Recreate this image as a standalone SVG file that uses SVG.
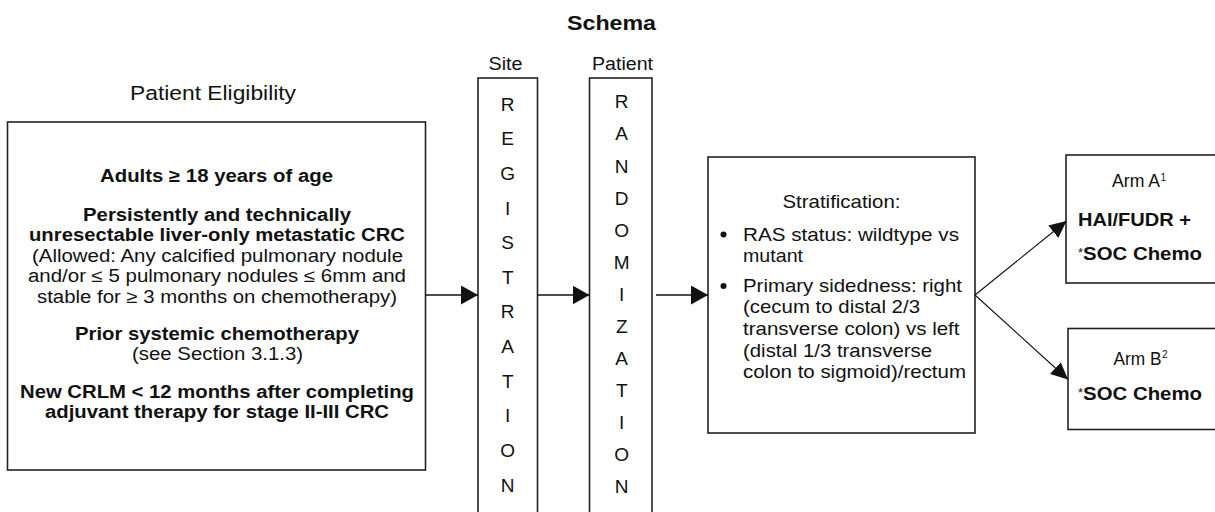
<svg xmlns="http://www.w3.org/2000/svg" width="1215" height="512" viewBox="0 0 1215 512">
<style>
.t{font-family:"Liberation Sans",Arial,sans-serif;fill:#111;}
.b{font-weight:bold;}
.m{text-anchor:middle;}
.box{fill:#fff;stroke:#222;stroke-width:1.6;}
.ln{fill:none;stroke:#111;stroke-width:1.6;}
.dg{fill:none;stroke:#111;stroke-width:1.1;}
.f18{font-size:18px;}
.f185{font-size:18.5px;}
.f19{font-size:19px;}
.f20{font-size:20px;}
</style>
<defs>
<marker id="ah" markerUnits="userSpaceOnUse" markerWidth="17" markerHeight="19" refX="17" refY="9.5" orient="auto">
<path d="M0,0 L17,9.5 L0,19 z" fill="#111"/>
</marker>
<marker id="ahd" markerUnits="userSpaceOnUse" markerWidth="17" markerHeight="16" refX="17" refY="8" orient="auto">
<path d="M0,0 L17,8 L0,16 z" fill="#111"/>
</marker>
</defs>
<rect width="1215" height="512" fill="#fff"/>

<g id="titles">
<text class="t b m f20" x="611.5" y="30" textLength="89" lengthAdjust="spacingAndGlyphs">Schema</text>
<text class="t m f20" x="213" y="100" textLength="166" lengthAdjust="spacingAndGlyphs">Patient Eligibility</text>
<text class="t m f18" x="505.5" y="70" textLength="34" lengthAdjust="spacingAndGlyphs">Site</text>
<text class="t m f18" x="622.5" y="70" textLength="61" lengthAdjust="spacingAndGlyphs">Patient</text>
</g>

<g id="eligibility">
<rect class="box" x="7.5" y="122" width="418" height="348"/>
<text class="t b m f18" x="216.5" y="182" textLength="233" lengthAdjust="spacingAndGlyphs">Adults ≥ 18 years of age</text>
<text class="t b m f18" x="217" y="221" textLength="268" lengthAdjust="spacingAndGlyphs">Persistently and technically</text>
<text class="t b m f18" x="217" y="241" textLength="376" lengthAdjust="spacingAndGlyphs">unresectable liver-only metastatic CRC</text>
<text class="t m f18" x="217.5" y="261.5" textLength="371" lengthAdjust="spacingAndGlyphs">(Allowed: Any calcified pulmonary nodule</text>
<text class="t m f18" x="217" y="282" textLength="378" lengthAdjust="spacingAndGlyphs">and/or ≤ 5 pulmonary nodules ≤ 6mm and</text>
<text class="t m f18" x="217" y="302.5" textLength="360" lengthAdjust="spacingAndGlyphs">stable for ≥ 3 months on chemotherapy)</text>
<text class="t b m f18" x="217" y="340" textLength="284" lengthAdjust="spacingAndGlyphs">Prior systemic chemotherapy</text>
<text class="t m f18" x="217.5" y="360" textLength="171" lengthAdjust="spacingAndGlyphs">(see Section 3.1.3)</text>
<text class="t b m f18" x="217" y="398" textLength="394" lengthAdjust="spacingAndGlyphs">New CRLM &lt; 12 months after completing</text>
<text class="t b m f18" x="217" y="418" textLength="344" lengthAdjust="spacingAndGlyphs">adjuvant therapy for stage II-III CRC</text>
</g>

<g id="registration">
<rect class="box" x="478" y="78" width="59.5" height="460"/>
<g class="t m f19">
<text x="507.7" y="110.5">R</text>
<text x="507.7" y="145.2">E</text>
<text x="507.7" y="179.8">G</text>
<text x="507.7" y="214.5">I</text>
<text x="507.7" y="249.1">S</text>
<text x="507.7" y="283.8">T</text>
<text x="507.7" y="318.4">R</text>
<text x="507.7" y="353.1">A</text>
<text x="507.7" y="387.7">T</text>
<text x="507.7" y="422.4">I</text>
<text x="507.7" y="457">O</text>
<text x="507.7" y="491.7">N</text>
</g>
</g>

<g id="randomization">
<rect class="box" x="589.5" y="78" width="62.5" height="460"/>
<g class="t m f19">
<text x="621.7" y="108.3">R</text>
<text x="621.7" y="140.4">A</text>
<text x="621.7" y="172.5">N</text>
<text x="621.7" y="204.5">D</text>
<text x="621.7" y="236.6">O</text>
<text x="621.7" y="268.7">M</text>
<text x="621.7" y="300.8">I</text>
<text x="621.7" y="332.9">Z</text>
<text x="621.7" y="365">A</text>
<text x="621.7" y="397">T</text>
<text x="621.7" y="429.1">I</text>
<text x="621.7" y="461.2">O</text>
<text x="621.7" y="493.3">N</text>
</g>
</g>

<g id="stratification">
<rect class="box" x="708" y="157" width="267" height="276"/>
<text class="t m f185" x="841.5" y="207.5" textLength="118" lengthAdjust="spacingAndGlyphs">Stratification:</text>
<circle cx="723.5" cy="234.5" r="3" fill="#111"/>
<circle cx="723.5" cy="286" r="3" fill="#111"/>
<text class="t f185" x="743" y="240.7" textLength="216" lengthAdjust="spacingAndGlyphs">RAS status: wildtype vs</text>
<text class="t f185" x="743" y="262" textLength="60" lengthAdjust="spacingAndGlyphs">mutant</text>
<text class="t f185" x="743" y="291.7" textLength="219" lengthAdjust="spacingAndGlyphs">Primary sidedness: right</text>
<text class="t f185" x="743" y="313.3" textLength="177" lengthAdjust="spacingAndGlyphs">(cecum to distal 2/3</text>
<text class="t f185" x="743" y="335" textLength="216.5" lengthAdjust="spacingAndGlyphs">transverse colon) vs left</text>
<text class="t f185" x="743" y="356.5" textLength="189" lengthAdjust="spacingAndGlyphs">(distal 1/3 transverse</text>
<text class="t f185" x="743" y="378.3" textLength="223" lengthAdjust="spacingAndGlyphs">colon to sigmoid)/rectum</text>
</g>

<g id="armA">
<rect class="box" x="1066" y="155" width="160" height="128"/>
<text class="t m f18" x="1136" y="187" textLength="48" lengthAdjust="spacingAndGlyphs">Arm A</text>
<text class="t" x="1160.5" y="180.5" font-size="10">1</text>
<text class="t b f18" x="1078" y="226" textLength="113" lengthAdjust="spacingAndGlyphs">HAI/FUDR +</text>
<text class="t f18" x="1078" y="259.5"><tspan font-size="13" dy="-3">*</tspan><tspan class="b" dy="3" textLength="119" lengthAdjust="spacingAndGlyphs">SOC Chemo</tspan></text>
</g>

<g id="armB">
<rect class="box" x="1068" y="328.5" width="160" height="101"/>
<text class="t m f18" x="1137.5" y="365" textLength="48" lengthAdjust="spacingAndGlyphs">Arm B</text>
<text class="t" x="1162" y="358" font-size="10">2</text>
<text class="t f18" x="1078" y="400"><tspan font-size="13" dy="-3">*</tspan><tspan class="b" dy="3" textLength="119" lengthAdjust="spacingAndGlyphs">SOC Chemo</tspan></text>
</g>

<g id="connectors">
<path class="ln" d="M426,295 H478" marker-end="url(#ah)"/>
<path class="ln" d="M538,295 H589.5" marker-end="url(#ah)"/>
<path class="ln" d="M656,295 H708" marker-end="url(#ah)"/>
<path class="dg" d="M975,295 L1066.5,221" marker-end="url(#ahd)"/>
<path class="dg" d="M975,295 L1068,379.5" marker-end="url(#ahd)"/>
</g>
</svg>
